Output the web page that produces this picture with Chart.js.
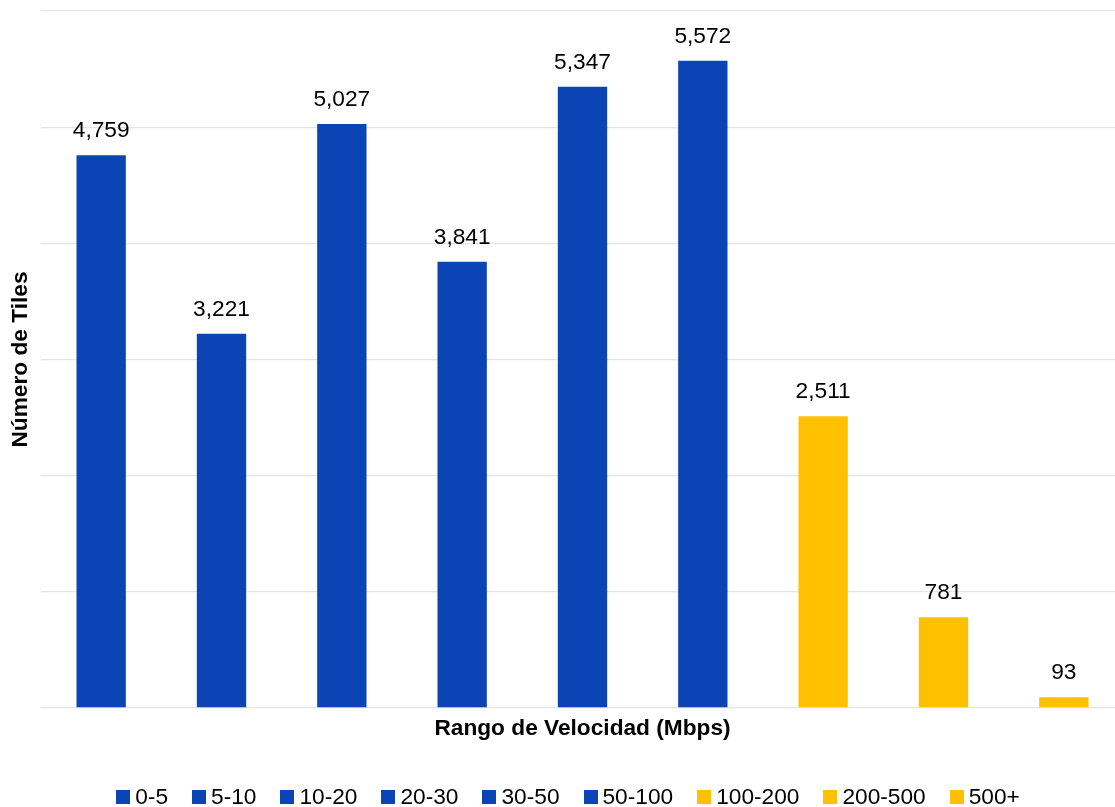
<!DOCTYPE html>
<html>
<head>
<meta charset="utf-8">
<script src="https://cdn.jsdelivr.net/npm/chart.js@4.4.1/dist/chart.umd.min.js"></script>
<style>
  html, body { margin: 0; padding: 0; background: #ffffff; overflow: hidden; }
  #wrap { position: absolute; left: 0; top: 0; width: 1124px; height: 807px; }
</style>
</head>
<body>
<div id="wrap"><canvas id="chart"></canvas></div>
<script>
// Speed ranges (Mbps) and number of tiles in each range
const categories = ['0-5', '5-10', '10-20', '20-30', '30-50', '50-100', '100-200', '200-500', '500+'];
const tileCounts = [4759, 3221, 5027, 3841, 5347, 5572, 2511, 781, 93];
const barColors = ['#0B44B5', '#0B44B5', '#0B44B5', '#0B44B5', '#0B44B5', '#0B44B5', '#FFC000', '#FFC000', '#FFC000'];
const yAxisMin = 0;
const yAxisMax = 6000;
const yAxisStep = 1000;

const FONT = '"Liberation Sans", Arial, sans-serif';
const FONT_SIZE = 22.7;
const TEXT_COLOR = '#000000';

// Value labels above each bar
const valueLabels = {
  id: 'valueLabels',
  afterDatasetsDraw(chart) {
    const ctx = chart.ctx;
    const meta = chart.getDatasetMeta(0);
    ctx.save();
    ctx.font = FONT_SIZE + 'px ' + FONT;
    ctx.fillStyle = TEXT_COLOR;
    ctx.textAlign = 'center';
    ctx.textBaseline = 'alphabetic';
    meta.data.forEach((bar, i) => {
      const v = chart.data.datasets[0].data[i];
      ctx.fillText(v.toLocaleString('en-US'), bar.x, bar.y - 18);
    });
    ctx.restore();
  }
};

// One legend entry per range, laid out in a single centred row
const rangeLegend = {
  id: 'rangeLegend',
  afterDraw(chart) {
    const ctx = chart.ctx;
    const labels = chart.data.labels;
    const colors = chart.data.datasets[0].backgroundColor;
    const box = 14, gapText = 5, gapItem = 24, cy = 797, centerX = 568;
    ctx.save();
    ctx.font = FONT_SIZE + 'px ' + FONT;
    ctx.textBaseline = 'middle';
    ctx.textAlign = 'left';
    const widths = labels.map(l => ctx.measureText(l).width);
    const total = widths.reduce((s, w) => s + box + gapText + w, 0) + gapItem * (labels.length - 1);
    let x = centerX - total / 2;
    labels.forEach((l, i) => {
      ctx.fillStyle = colors[i];
      ctx.fillRect(Math.round(x), cy - box / 2, box, box);
      ctx.fillStyle = TEXT_COLOR;
      ctx.fillText(l, x + box + gapText, cy + 1);
      x += box + gapText + widths[i] + gapItem;
    });
    ctx.restore();
  }
};

new Chart(document.getElementById('chart'), {
  type: 'bar',
  data: {
    labels: categories,
    datasets: [{
      data: tileCounts,
      backgroundColor: barColors,
      barPercentage: 0.41,
      categoryPercentage: 1.0
    }]
  },
  options: {
    responsive: true,
    maintainAspectRatio: false,
    animation: false,
    layout: { padding: { top: 11, left: 0, right: 0, bottom: 65 } },
    plugins: {
      legend: { display: false },
      tooltip: { enabled: false }
    },
    scales: {
      x: {
        grid: { display: false },
        border: { display: false },
        ticks: { display: false },
        title: {
          display: true,
          text: 'Rango de Velocidad (Mbps)',
          color: TEXT_COLOR,
          font: { family: FONT, size: FONT_SIZE, weight: 'bold' },
          padding: { top: 0, bottom: 0 }
        },
        afterFit(scale) { scale.height = 34; }
      },
      y: {
        min: yAxisMin,
        max: yAxisMax,
        ticks: { display: false, stepSize: yAxisStep },
        grid: { color: '#E4E4E4', lineWidth: 1.3, drawTicks: false },
        border: { display: false },
        title: {
          display: true,
          text: 'Número de Tiles',
          color: TEXT_COLOR,
          font: { family: FONT, size: FONT_SIZE, weight: 'bold' },
          padding: { top: 7, bottom: 0 }
        },
        afterFit(scale) { scale.width = 41; }
      }
    }
  },
  plugins: [valueLabels, rangeLegend]
});
</script>
</body>
</html>
